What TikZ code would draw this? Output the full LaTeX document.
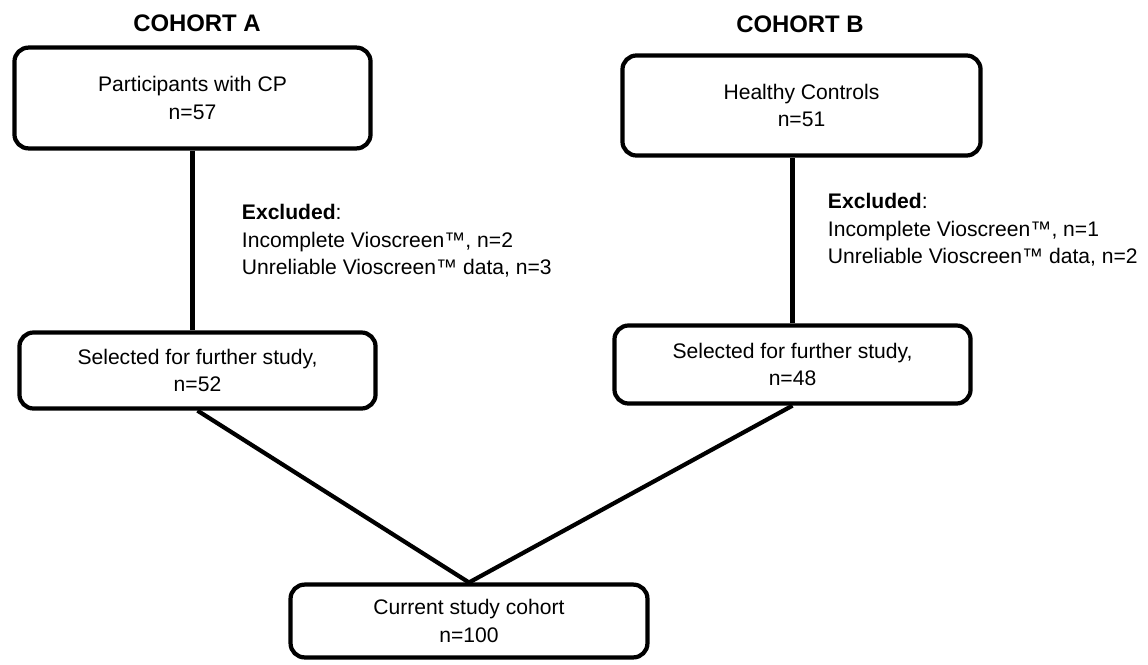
\documentclass[tikz,border=0pt]{standalone}
\usepackage{fontspec}
\setmainfont{Liberation Sans}
\begin{document}
\begin{tikzpicture}[x=0.025cm, y=-0.025cm,
        every node/.style={font=\fontsize{15}{19.5}\selectfont},
        flowbox/.style={draw, line width=3pt, rounded corners=10pt, align=center, inner sep=0pt, minimum width=8.9cm},
        cohort/.style={font=\fontsize{17}{20}\selectfont\bfseries},
        excl/.style={align=left, anchor=west},
        link/.style={line width=3pt}]
    \useasboundingbox (0,0) rectangle (1148,664);
    % headings
    \node[cohort] (headA) at (197,23) {COHORT A};
    \node[cohort] (headB) at (800,24) {COHORT B};
    % boxes
    \node[flowbox, minimum height=2.52cm] (partA) at (192.5,98) {Participants with CP\\n=57};
    \node[flowbox, minimum height=2.5cm, minimum width=8.95cm] (partB) at (801.5,105.5) {Healthy Controls\\n=51};
    \node[flowbox, minimum height=1.9cm] (selA) at (197.5,370.5) {Selected for further study,\\n=52};
    \node[flowbox, minimum height=1.95cm] (selB) at (792.5,364.5) {Selected for further study,\\n=48};
    \node[flowbox, minimum height=1.82cm, minimum width=8.92cm] (curr) at (469,621) {Current study cohort\\n=100};
    % exclusions
    \node[excl] (exclA) at (237,241) {\textbf{Excluded}:\\Incomplete Vioscreen™, n=2\\Unreliable Vioscreen™ data, n=3};
    \node[excl] (exclB) at (823,230) {\textbf{Excluded}:\\Incomplete Vioscreen™, n=1\\Unreliable Vioscreen™ data, n=2};
    % connectors
    \draw[link] (partA.south) -- (partA.south |- selA.north);
    \draw[link] (selB.north) -- (selB.north |- partB.south);
    \draw[link] (selA.south) -- (curr.north);
    \draw[link] (selB.south) -- (curr.north);
\end{tikzpicture}
\end{document}
